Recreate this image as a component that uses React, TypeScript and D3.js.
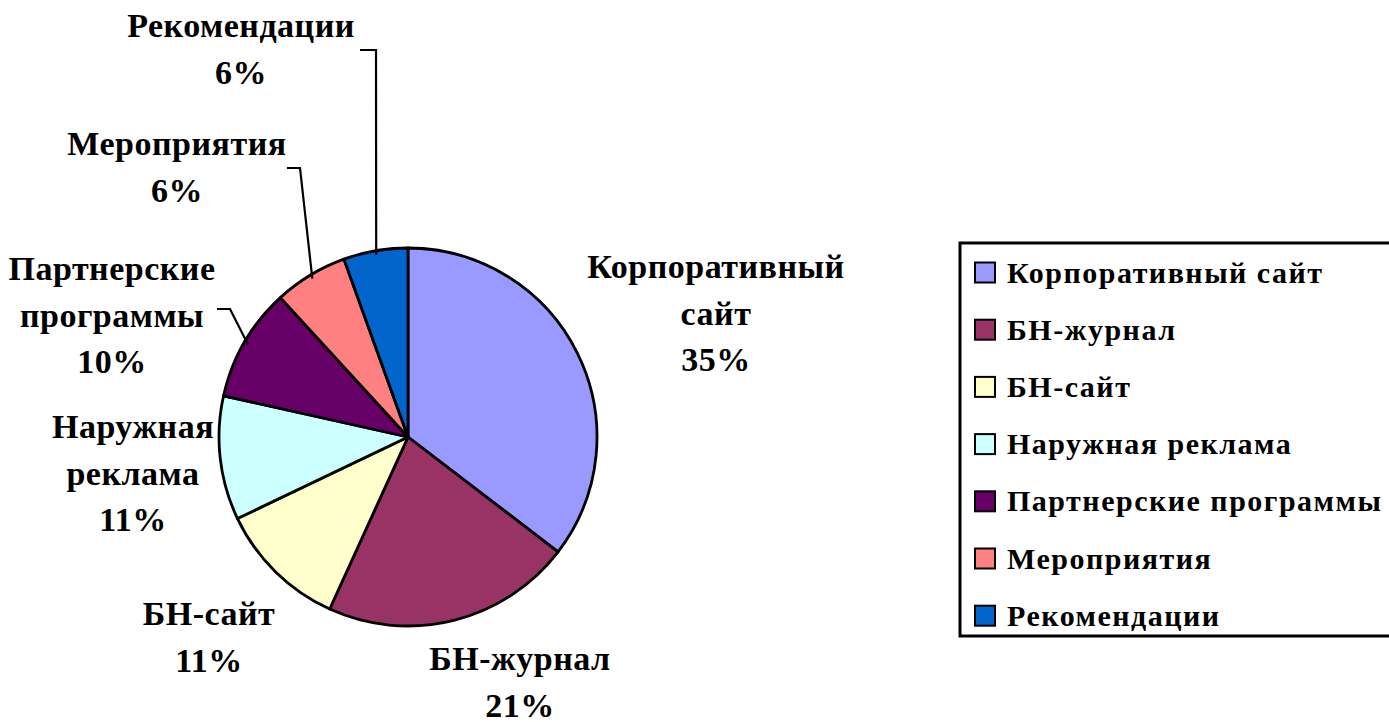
import * as d3 from "d3";

// shares (percent)
const categories = [
  "Корпоративный сайт",
  "БН-журнал",
  "БН-сайт",
  "Наружная реклама",
  "Партнерские программы",
  "Мероприятия",
  "Рекомендации",
];
const values = [35.4, 21.4, 11.1, 10.6, 9.7, 6.3, 5.5];
const colors = ["#9999FF", "#993366", "#FFFFCC", "#CCFFFF", "#660066", "#FF8080", "#0066CC"];
const labelLines = [
  ["Корпоративный", "сайт"],
  ["БН-журнал"],
  ["БН-сайт"],
  ["Наружная", "реклама"],
  ["Партнерские", "программы"],
  ["Мероприятия"],
  ["Рекомендации"],
];

const W = 1389;
const H = 722;
const cx = 408;
const cy = 437;
const r = 189;
const font = "Liberation Serif";

// label block anchors: center x, first baseline; elbow = start of leader line
const labelLayout = [
  { x: 716, y: 278 },
  { x: 520, y: 670 },
  { x: 209, y: 625 },
  { x: 133, y: 438 },
  { x: 112, y: 280, elbow: [217, 309, 230] },
  { x: 177, y: 155, elbow: [287, 168, 300] },
  { x: 241, y: 37, elbow: [360, 50, 376] },
];
const lineH = 46.5;

const App = () => {
  const total = d3.sum(values);
  const pie = d3
    .pie<number>()
    .sort(null)
    .value((d) => d)
    .startAngle(0)
    .endAngle(2 * Math.PI);
  const arcs = pie(values);
  const arc = d3.arc<d3.PieArcDatum<number>>().innerRadius(0).outerRadius(r);
  const edge = d3.arc<d3.PieArcDatum<number>>().innerRadius(r - 4).outerRadius(r - 4);

  const legendX = 960;
  const legendY = 243;
  const legendStep = 57.2;

  return (
    <svg width={W} height={H} style={{ position: "absolute", left: 0, top: 0, background: "#fff" }}>
      <rect x={0} y={0} width={W} height={H} fill="#fff" />
      <g transform={`translate(${cx},${cy})`}>
        {arcs.map((a, i) => (
          <path key={i} d={arc(a) || ""} fill={colors[i]} stroke="#000" strokeWidth={2.8} strokeLinejoin="round" />
        ))}
      </g>
      {arcs.map((a, i) => {
        const L = labelLayout[i];
        if (!L.elbow) return null;
        const [ex, ey] = edge.centroid(a);
        const [x0, y0, x1] = L.elbow;
        return (
          <polyline
            key={"l" + i}
            points={`${x0},${y0} ${x1},${y0} ${cx + ex},${cy + ey}`}
            fill="none"
            stroke="#000"
            strokeWidth={2.2}
          />
        );
      })}
      {labelLayout.map((L, i) => {
        const lines = [...labelLines[i], Math.round((values[i] / total) * 100) + "%"];
        return (
          <text
            key={"t" + i}
            textAnchor="middle"
            style={{ fontFamily: font, fontWeight: "bold", fontSize: 34, letterSpacing: 0.5 }}
            fill="#000"
          >
            {lines.map((s, j) => (
              <tspan key={j} x={L.x} y={L.y + j * lineH}>
                {s}
              </tspan>
            ))}
          </text>
        );
      })}
      <rect
        x={legendX}
        y={legendY}
        width={W - legendX + 10}
        height={393}
        fill="#fff"
        stroke="#000"
        strokeWidth={3}
      />
      {categories.map((c, i) => {
        const yc = 272.5 + i * legendStep;
        return (
          <g key={"g" + i}>
            <rect x={975} y={yc - 10} width={20} height={20} fill={colors[i]} stroke="#000" strokeWidth={2} />
            <text
              x={1007}
              y={yc + 10}
              style={{ fontFamily: font, fontWeight: "bold", fontSize: 30, letterSpacing: 1.5 }}
              fill="#000"
            >
              {c}
            </text>
          </g>
        );
      })}
    </svg>
  );
};

export default App;
